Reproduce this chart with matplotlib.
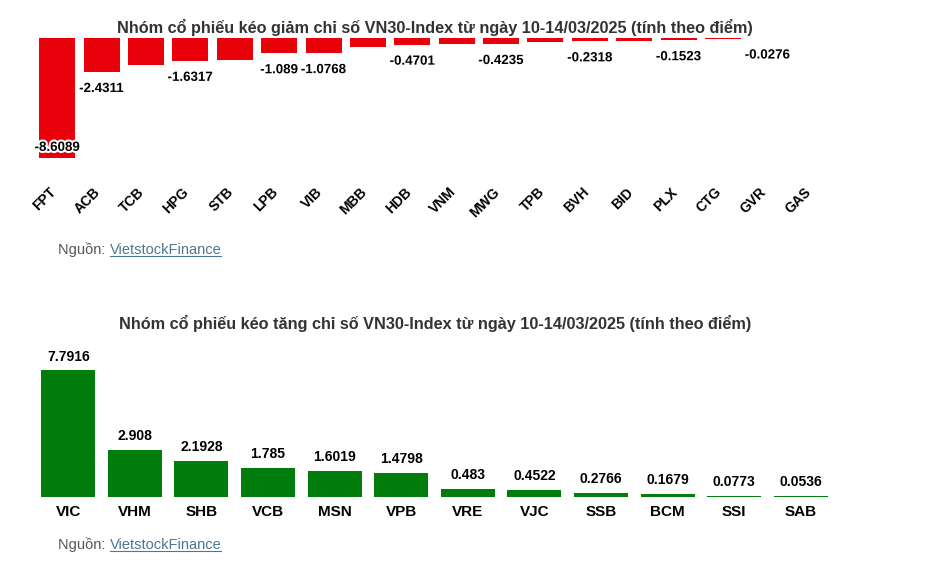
import matplotlib
matplotlib.use("Agg")
import matplotlib.pyplot as plt
import matplotlib.patheffects as pe
from matplotlib.lines import Line2D
from matplotlib.transforms import ScaledTranslation

plt.rcParams['font.family'] = ['Liberation Sans', 'DejaVu Sans']

# Nhóm kéo giảm
tickers_down = ['FPT', 'ACB', 'TCB', 'HPG', 'STB', 'LPB', 'VIB', 'MBB', 'HDB',
                'VNM', 'MWG', 'TPB', 'BVH', 'BID', 'PLX', 'CTG', 'GVR', 'GAS']
values_down = [-8.6089, -2.4311, -1.92, -1.6317, -1.55, -1.089, -1.0768, -0.66, -0.4701,
               -0.45, -0.4235, -0.30, -0.2318, -0.19, -0.1523, -0.10, -0.0276, -0.01]
# nhãn giá trị nào hiện trên biểu đồ gốc
labels_down = [True, True, False, True, False, True, True, False, True,
               False, True, False, True, False, True, False, True, False]

# Nhóm kéo tăng
tickers_up = ['VIC', 'VHM', 'SHB', 'VCB', 'MSN', 'VPB', 'VRE', 'VJC', 'SSB', 'BCM', 'SSI', 'SAB']
values_up = [7.7916, 2.908, 2.1928, 1.785, 1.6019, 1.4798, 0.483, 0.4522, 0.2766, 0.1679, 0.0773, 0.0536]

title_down = 'Nhóm cổ phiếu kéo giảm chỉ số VN30-Index từ ngày 10-14/03/2025 (tính theo điểm)'
title_up = 'Nhóm cổ phiếu kéo tăng chỉ số VN30-Index từ ngày 10-14/03/2025 (tính theo điểm)'

RED = '#e8000b'
GREEN = '#007d0c'
W, H = 942, 562

fig = plt.figure(figsize=(W / 100, H / 100), dpi=100)
fig.patch.set_facecolor('white')


def box(left, top, right, bottom):
    # chuyển toạ độ pixel sang toạ độ figure
    return [left / W, 1 - bottom / H, (right - left) / W, (bottom - top) / H]


def draw_source(y_px):
    x0 = 58 / W
    y0 = 1 - y_px / H
    t1 = fig.text(x0, y0, 'Nguồn: ', fontsize=10.5, color='#555555', va='center')
    fig.canvas.draw()
    bb = t1.get_window_extent()
    t2 = fig.text(bb.x1 / W, y0, 'VietstockFinance', fontsize=10.5, color='#4d7694', va='center')
    fig.canvas.draw()
    bb2 = t2.get_window_extent()
    yl = (bb2.y0 + 1) / H
    fig.add_artist(Line2D([bb2.x0 / W, bb2.x1 / W], [yl, yl], color='#4d7694', lw=0.8))


halo = [pe.withStroke(linewidth=3, foreground='white')]

# ---- biểu đồ trên ----
ax1 = fig.add_axes(box(35, 38, 834, 160))
x1 = range(len(tickers_down))
ax1.bar(x1, values_down, width=0.81, color=RED)
ax1.set_xlim(-0.5, len(tickers_down) - 0.5)
ax1.set_ylim(-8.75, 0)
vmin = min(values_down)
for i, (v, show) in enumerate(zip(values_down, labels_down)):
    if not show:
        continue
    if v == vmin:
        ax1.annotate(f'{v:g}', (i, v), xytext=(0, 3), textcoords='offset points',
                     ha='center', va='bottom', fontsize=9.6, fontweight='bold',
                     path_effects=halo)
    else:
        ax1.annotate(f'{v:g}', (i, v), xytext=(0, -8), textcoords='offset points',
                     ha='center', va='top', fontsize=9.6, fontweight='bold',
                     path_effects=halo)
ax1.set_xticks(list(x1))
ax1.set_xticklabels(tickers_down, rotation=45, ha='right', rotation_mode='anchor',
                    fontsize=10, fontweight='bold')
ax1.tick_params(axis='x', length=0, pad=18)
shift = ScaledTranslation(-6 / 72, 0, fig.dpi_scale_trans)
for lbl in ax1.get_xticklabels():
    lbl.set_transform(lbl.get_transform() + shift)
ax1.set_yticks([])
for s in ax1.spines.values():
    s.set_visible(False)
fig.text(435 / W, 1 - 27 / H, title_down, ha='center', va='center',
         fontsize=11.7, fontweight='bold', color='#333333')

# ---- biểu đồ dưới ----
ax2 = fig.add_axes(box(35, 346, 834, 497))
x2 = range(len(tickers_up))
ax2.bar(x2, values_up, width=0.81, color=GREEN)
ax2.set_xlim(-0.5, len(tickers_up) - 0.5)
ax2.set_ylim(0, 9.3)
for i, v in enumerate(values_up):
    ax2.annotate(f'{v:g}', (i, v), xytext=(0, 5), textcoords='offset points',
                 ha='center', va='bottom', fontsize=10, fontweight='bold')
ax2.set_xticks(list(x2))
ax2.set_xticklabels(tickers_up, fontsize=11, fontweight='bold')
ax2.tick_params(axis='x', length=0, pad=6)
ax2.set_yticks([])
for s in ax2.spines.values():
    s.set_visible(False)
fig.text(435 / W, 1 - 323 / H, title_up, ha='center', va='center',
         fontsize=11.7, fontweight='bold', color='#333333')

draw_source(250)
draw_source(545)

fig.savefig('out.png', dpi=100, facecolor='white')
